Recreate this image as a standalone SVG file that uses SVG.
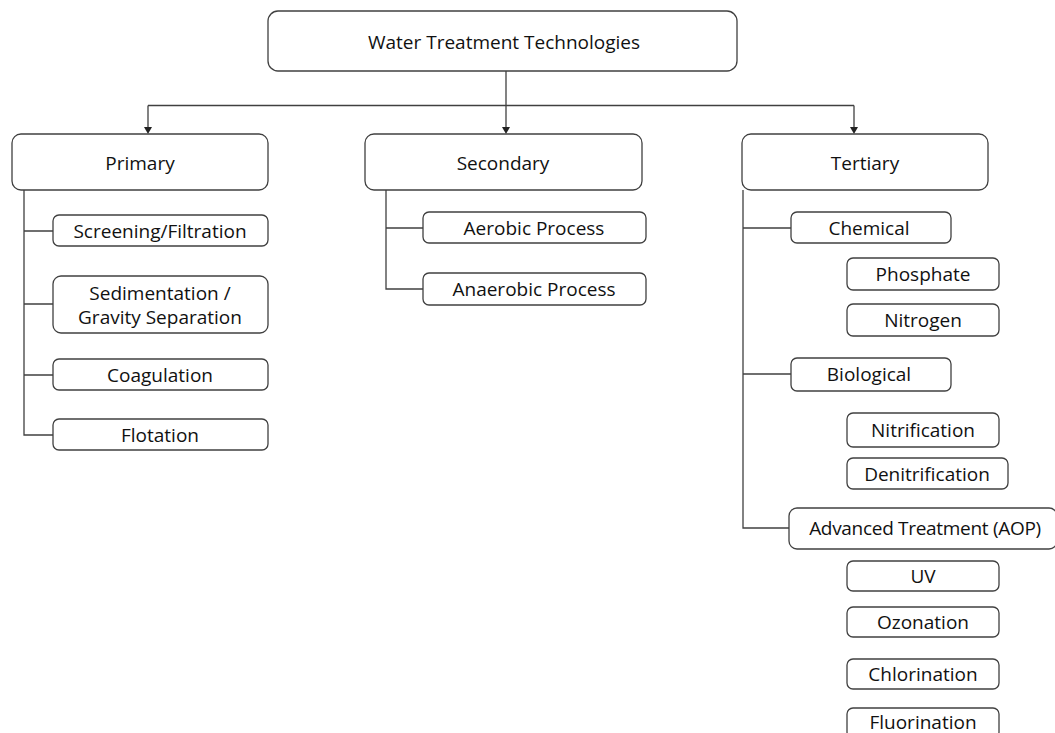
<svg xmlns="http://www.w3.org/2000/svg" width="1055" height="733" viewBox="0 0 1055 733">
<style>
.b{fill:#fff;stroke:#404040;stroke-width:1.3}
.t{font-family:"Open Sans","Noto Sans",sans-serif;font-size:19px;fill:#111;text-anchor:middle;dominant-baseline:central}
.l{fill:none;stroke:#404040;stroke-width:1.3}
.ah{fill:#222}
</style>
<rect width="1055" height="733" fill="#fff"/>
<g id="connectors">
<path class="l" d="M506,71 V128"/>
<path class="l" d="M148,105.5 H854"/>
<path class="l" d="M148,105.5 V128"/>
<path class="l" d="M854,105.5 V128"/>
<path class="ah" d="M144,127 L152,127 L148,134 Z"/>
<path class="ah" d="M502,127 L510,127 L506,134 Z"/>
<path class="ah" d="M850,127 L858,127 L854,134 Z"/>
<path class="l" d="M24,190 V435 H53 M24,231 H53 M24,304 H53 M24,375 H53"/>
<path class="l" d="M386,190 V289 H423 M386,228 H423"/>
<path class="l" d="M743,190 V528 H789 M743,228 H791 M743,374 H791"/>
</g>
<g id="n-root"><rect class="b" x="268" y="11" width="469" height="60" rx="10"/><text class="t" x="504" y="42">Water Treatment Technologies</text></g>
<g id="n-primary"><rect class="b" x="12" y="134" width="256" height="56" rx="9"/><text class="t" x="140" y="163">Primary</text></g>
<g id="n-secondary"><rect class="b" x="365" y="134" width="277" height="56" rx="9"/><text class="t" x="503" y="163">Secondary</text></g>
<g id="n-tertiary"><rect class="b" x="742" y="134" width="246" height="56" rx="9"/><text class="t" x="865" y="163">Tertiary</text></g>
<g id="n-screening"><rect class="b" x="53" y="215" width="215" height="31" rx="6"/><text class="t" x="160" y="231">Screening/Filtration</text></g>
<g id="n-sedimentation"><rect class="b" x="53" y="276" width="215" height="57" rx="8"/><text class="t" x="160" y="293">Sedimentation /</text><text class="t" x="160" y="317">Gravity Separation</text></g>
<g id="n-coagulation"><rect class="b" x="53" y="359" width="215" height="31" rx="6"/><text class="t" x="160" y="375">Coagulation</text></g>
<g id="n-flotation"><rect class="b" x="53" y="419" width="215" height="31" rx="6"/><text class="t" x="160" y="435">Flotation</text></g>
<g id="n-aerobic"><rect class="b" x="423" y="212" width="223" height="31" rx="6"/><text class="t" x="534" y="228">Aerobic Process</text></g>
<g id="n-anaerobic"><rect class="b" x="423" y="273" width="223" height="32" rx="6"/><text class="t" x="534" y="289">Anaerobic Process</text></g>
<g id="n-chemical"><rect class="b" x="791" y="212" width="160" height="31" rx="6"/><text class="t" x="869" y="228">Chemical</text></g>
<g id="n-phosphate"><rect class="b" x="847" y="258" width="152" height="32" rx="6"/><text class="t" x="923" y="274">Phosphate</text></g>
<g id="n-nitrogen"><rect class="b" x="847" y="304" width="152" height="32" rx="6"/><text class="t" x="923" y="320">Nitrogen</text></g>
<g id="n-biological"><rect class="b" x="791" y="358" width="160" height="33" rx="6"/><text class="t" x="869" y="374">Biological</text></g>
<g id="n-nitrification"><rect class="b" x="847" y="413" width="152" height="34" rx="6"/><text class="t" x="923" y="430">Nitrification</text></g>
<g id="n-denitrification"><rect class="b" x="847" y="458" width="161" height="31" rx="6"/><text class="t" x="927" y="474">Denitrification</text></g>
<g id="n-advanced"><rect class="b" x="789" y="508" width="268" height="41" rx="8"/><text class="t" x="925" y="528" style="letter-spacing:-0.3px">Advanced Treatment (AOP)</text></g>
<g id="n-uv"><rect class="b" x="847" y="561" width="152" height="30" rx="6"/><text class="t" x="923" y="576">UV</text></g>
<g id="n-ozonation"><rect class="b" x="847" y="607" width="152" height="30" rx="6"/><text class="t" x="923" y="622">Ozonation</text></g>
<g id="n-chlorination"><rect class="b" x="847" y="659" width="152" height="30" rx="6"/><text class="t" x="923" y="674">Chlorination</text></g>
<g id="n-fluorination"><rect class="b" x="847" y="708" width="152" height="30" rx="6"/><text class="t" x="923" y="722">Fluorination</text></g>
</svg>
